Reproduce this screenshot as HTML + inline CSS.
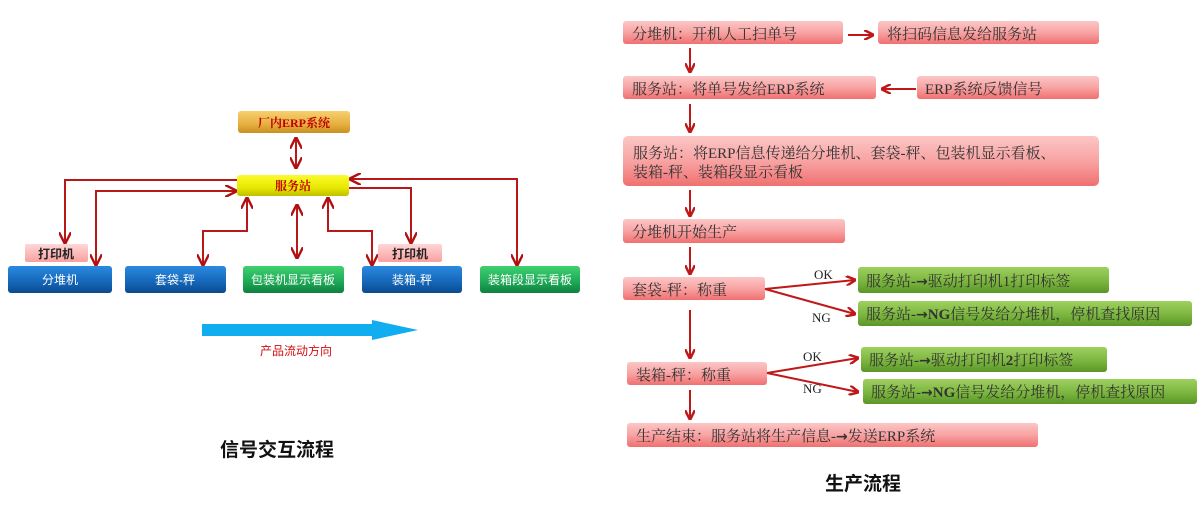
<!DOCTYPE html>
<html><head><meta charset="utf-8"><style>
body{margin:0;background:#fff;}
svg{display:block}
text{font-family:"Liberation Serif","Noto Serif CJK SC",serif;}
.s{font-family:"Liberation Sans","Noto Sans CJK SC",sans-serif;}
.ar{font-family:"DejaVu Sans",sans-serif;font-weight:bold;}
</style></head><body>
<svg width="1204" height="508" viewBox="0 0 1204 508" xmlns="http://www.w3.org/2000/svg">
<defs>
<linearGradient id="pk" x1="0" y1="0" x2="0" y2="1"><stop offset="0" stop-color="#fcc6c6"/><stop offset="0.5" stop-color="#f8a3a3"/><stop offset="1" stop-color="#f07070"/></linearGradient>
<linearGradient id="gr" x1="0" y1="0" x2="0" y2="1"><stop offset="0" stop-color="#9fd060"/><stop offset="0.6" stop-color="#78b33c"/><stop offset="1" stop-color="#5a9428"/></linearGradient>
<linearGradient id="bl" x1="0" y1="0" x2="0" y2="1"><stop offset="0" stop-color="#2a8ae0"/><stop offset="0.6" stop-color="#1566b8"/><stop offset="1" stop-color="#0b4a8e"/></linearGradient>
<linearGradient id="gn" x1="0" y1="0" x2="0" y2="1"><stop offset="0" stop-color="#3fd070"/><stop offset="0.6" stop-color="#1da856"/><stop offset="1" stop-color="#0e8040"/></linearGradient>
<linearGradient id="or" x1="0" y1="0" x2="0" y2="1"><stop offset="0" stop-color="#f6d070"/><stop offset="0.6" stop-color="#e6b040"/><stop offset="1" stop-color="#c89020"/></linearGradient>
<linearGradient id="ye" x1="0" y1="0" x2="0" y2="1"><stop offset="0" stop-color="#fbfb30"/><stop offset="0.6" stop-color="#e8e800"/><stop offset="1" stop-color="#c0c000"/></linearGradient>
<linearGradient id="lp" x1="0" y1="0" x2="0" y2="1"><stop offset="0" stop-color="#ffd6d6"/><stop offset="1" stop-color="#f8a0a0"/></linearGradient>
<marker id="a" viewBox="0 0 10 10" refX="9" refY="5" markerWidth="6" markerHeight="6" orient="auto-start-reverse"><path d="M0,0 L10,5 L0,10" fill="none" stroke="#b01010" stroke-width="2"/></marker>
<marker id="b" viewBox="0 0 10 10" refX="9" refY="5" markerWidth="5" markerHeight="5" orient="auto"><path d="M0,0 L10,5 L0,10" fill="none" stroke="#c01818" stroke-width="2.5"/></marker>
</defs>

<!-- LEFT DIAGRAM -->
<g stroke="#b81818" stroke-width="2" fill="none">
<line x1="296" y1="138" x2="296" y2="168" marker-start="url(#a)" marker-end="url(#a)"/>
<polyline points="237,180 65,180 65,243" marker-end="url(#a)"/>
<polyline points="96,265 96,191 236,191" marker-start="url(#a)" marker-end="url(#a)"/>
<polyline points="203,265 203,231 247,231 247,198" marker-start="url(#a)" marker-end="url(#a)"/>
<line x1="297" y1="205" x2="297" y2="258" marker-start="url(#a)" marker-end="url(#a)"/>
<polyline points="328,198 328,231 372,231 372,265" marker-start="url(#a)" marker-end="url(#a)"/>
<polyline points="349,188 411,188 411,243" marker-end="url(#a)"/>
<polyline points="517,265 517,179 350,179" marker-start="url(#a)" marker-end="url(#a)"/>
</g>
<rect x="238" y="111" width="112" height="22" rx="3" fill="url(#or)"/>
<text x="294" y="127" text-anchor="middle" font-size="12" font-weight="bold" fill="#c00000">厂内ERP系统</text>
<rect x="237" y="175" width="112" height="21" rx="3" fill="url(#ye)"/>
<text x="293" y="190" text-anchor="middle" font-size="12" font-weight="bold" fill="#c00000">服务站</text>
<rect x="25" y="244" width="63" height="18" rx="2" fill="url(#lp)"/>
<text x="56" y="258" text-anchor="middle" font-size="12" font-weight="bold" fill="#222" class="s">打印机</text>
<rect x="378" y="244" width="64" height="18" rx="2" fill="url(#lp)"/>
<text x="410" y="258" text-anchor="middle" font-size="12" font-weight="bold" fill="#222" class="s">打印机</text>
<g font-size="12" text-anchor="middle">
<rect x="8" y="266" width="104" height="27" rx="3" fill="url(#bl)"/><text class="s" x="60" y="284" fill="#fff">分堆机</text>
<rect x="125" y="266" width="101" height="27" rx="3" fill="url(#bl)"/><text class="s" x="175" y="284" fill="#fff">套袋-秤</text>
<rect x="243" y="266" width="101" height="27" rx="3" fill="url(#gn)"/><text class="s" x="293" y="284" fill="#fff">包装机显示看板</text>
<rect x="362" y="266" width="100" height="27" rx="3" fill="url(#bl)"/><text class="s" x="412" y="284" fill="#fff">装箱-秤</text>
<rect x="480" y="266" width="100" height="27" rx="3" fill="url(#gn)"/><text class="s" x="530" y="284" fill="#fff">装箱段显示看板</text>
</g>
<polygon points="202,324 372,324 372,320 418,330 372,340 372,336 202,336" fill="#10aef0"/>
<text x="296" y="355" text-anchor="middle" font-size="12" fill="#d01010" class="s">产品流动方向</text>
<text x="277" y="456" text-anchor="middle" font-size="19" font-weight="bold" fill="#111" class="s">信号交互流程</text>

<!-- RIGHT FLOWCHART -->
<g fill="url(#pk)">
<rect x="623" y="21" width="220" height="23" rx="3"/>
<rect x="878" y="21" width="221" height="23" rx="3"/>
<rect x="623" y="76" width="253" height="23" rx="3"/>
<rect x="917" y="76" width="182" height="23" rx="3"/>
<rect x="623" y="136" width="476" height="50" rx="5"/>
<rect x="623" y="219" width="222" height="24" rx="3"/>
<rect x="623" y="277" width="142" height="23" rx="3"/>
<rect x="627" y="362" width="140" height="23" rx="3"/>
<rect x="627" y="423" width="411" height="24" rx="3"/>
</g>
<g fill="url(#gr)">
<rect x="858" y="267" width="251" height="26" rx="3"/>
<rect x="858" y="301" width="334" height="25" rx="3"/>
<rect x="861" y="347" width="246" height="25" rx="3"/>
<rect x="863" y="379" width="334" height="25" rx="3"/>
</g>
<g font-size="15" fill="#333">
<text x="632" y="39">分堆机：开机人工扫单号</text>
<text x="887" y="39">将扫码信息发给服务站</text>
<text x="632" y="94">服务站：将单号发给ERP系统</text>
<text x="925" y="94">ERP系统反馈信号</text>
<text x="633" y="158">服务站：将ERP信息传递给分堆机、套袋-秤、包装机显示看板、</text>
<text x="633" y="177">装箱-秤、装箱段显示看板</text>
<text x="632" y="237">分堆机开始生产</text>
<text x="632" y="295">套袋-秤：称重</text>
<text x="636" y="380">装箱-秤：称重</text>
<text x="636" y="441">生产结束：服务站将生产信息-<tspan class="ar" font-size="14">→</tspan>发送ERP系统</text>
<text x="866" y="286">服务站-<tspan class="ar" font-size="14">→</tspan>驱动打印机1打印标签</text>
<text x="866" y="319">服务站-<tspan class="ar" font-size="14">→</tspan><tspan font-weight="bold">NG</tspan>信号发给分堆机，停机查找原因</text>
<text x="869" y="365">服务站-<tspan class="ar" font-size="14">→</tspan>驱动打印机<tspan font-weight="bold">2</tspan>打印标签</text>
<text x="871" y="397">服务站-<tspan class="ar" font-size="14">→</tspan><tspan font-weight="bold">NG</tspan>信号发给分堆机，停机查找原因</text>
</g>
<g font-size="13" fill="#222">
<text x="814" y="279">OK</text><text x="812" y="322">NG</text>
<text x="803" y="361">OK</text><text x="803" y="393">NG</text>
</g>
<g stroke="#c01818" stroke-width="2" fill="none" marker-end="url(#b)">
<line x1="848" y1="35" x2="873" y2="35"/>
<line x1="916" y1="89" x2="882" y2="89"/>
<line x1="690" y1="48" x2="690" y2="72"/>
<line x1="690" y1="104" x2="690" y2="132"/>
<line x1="690" y1="190" x2="690" y2="216"/>
<line x1="690" y1="247" x2="690" y2="274"/>
<line x1="690" y1="310" x2="690" y2="358"/>
<line x1="690" y1="390" x2="690" y2="419"/>
<line x1="765" y1="289" x2="855" y2="280"/>
<line x1="765" y1="289" x2="855" y2="314"/>
<line x1="767" y1="373" x2="858" y2="358"/>
<line x1="767" y1="373" x2="858" y2="392"/>
</g>
<text x="863" y="490" text-anchor="middle" font-size="19" font-weight="bold" fill="#111" class="s">生产流程</text>
</svg>
</body></html>
